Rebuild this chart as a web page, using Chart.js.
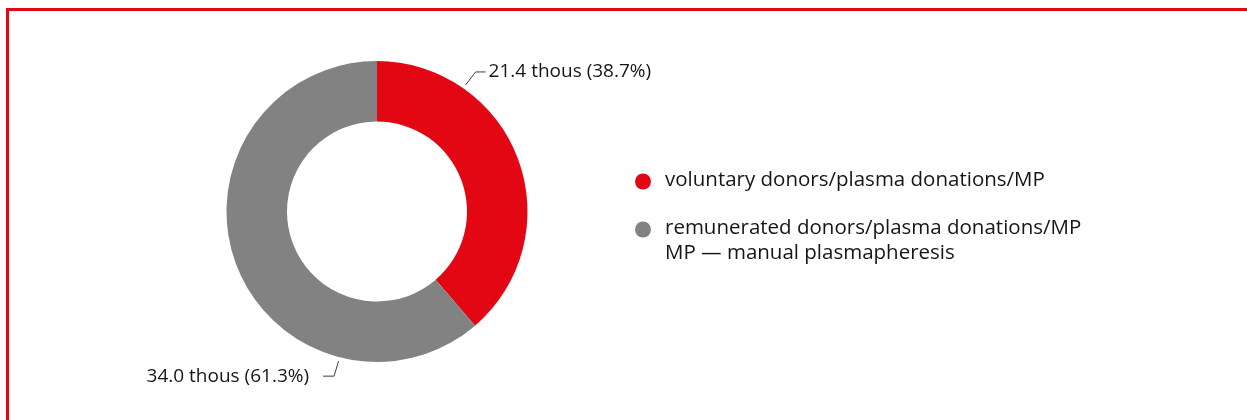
<!DOCTYPE html>
<html>
<head>
<meta charset="utf-8">
<script src="https://cdn.jsdelivr.net/npm/chart.js@4.4.1/dist/chart.umd.min.js"></script>
<style>
  html, body { margin: 0; padding: 0; background: #ffffff; }
  #wrap { position: relative; width: 1247px; height: 420px; overflow: hidden; }
  #frame {
    position: absolute; left: 6px; top: 8px; width: 1400px; height: 500px;
    border-top: 3px solid #e30613; border-left: 3px solid #e30613;
    box-sizing: border-box; pointer-events: none;
  }
  canvas { position: absolute; left: 0; top: 0; }
</style>
</head>
<body>
<div id="wrap">
  <canvas id="chart" width="1247" height="420"></canvas>
  <div id="frame"></div>
</div>
<script>
// Plasma donations by donor type, MP
const categories = [
  'voluntary donors/plasma donations/MP',
  'remunerated donors/plasma donations/MP'
];
const sharePercent = [38.7, 61.3];
const thousands = [21.4, 34.0];
const footnote = 'MP — manual plasmapheresis';
const colors = ['#e30613', '#818281'];

const FONT = '"Open Sans", "Noto Sans", sans-serif';
const TEXT_COLOR = '#161615';

// Callout placement for each slice: angle (deg, clockwise from top) where the
// leader starts, elbow offset and which side the text sits on.
const callouts = [
  { angle: 35, elbow: [10, -13], run: 10, gap: 3, side: 'right' },
  { angle: 194.4, elbow: [-4.5, 15], run: -11, gap: 14, side: 'left' }
];

const calloutPlugin = {
  id: 'callouts',
  afterDatasetsDraw(chart) {
    const ctx = chart.ctx;
    const meta = chart.getDatasetMeta(0);
    ctx.save();
    ctx.strokeStyle = '#3c3c3b';
    ctx.lineWidth = 1;
    ctx.fillStyle = TEXT_COLOR;
    ctx.font = '19px ' + FONT;
    ctx.textBaseline = 'middle';
    meta.data.forEach((arc, i) => {
      const c = callouts[i];
      const a = c.angle * Math.PI / 180;
      const r = arc.outerRadius + 4;
      const x0 = arc.x + r * Math.sin(a);
      const y0 = arc.y - r * Math.cos(a);
      const x1 = x0 + c.elbow[0];
      const y1 = y0 + c.elbow[1];
      const x2 = x1 + c.run;
      ctx.beginPath();
      ctx.moveTo(x0, y0);
      ctx.lineTo(x1, y1);
      ctx.lineTo(x2, y1);
      ctx.stroke();
      const text = thousands[i].toFixed(1) + ' thous (' + sharePercent[i].toFixed(1) + '%)';
      if (c.side === 'right') {
        ctx.textAlign = 'left';
        ctx.fillText(text, x2 + c.gap, y1);
      } else {
        ctx.textAlign = 'right';
        ctx.fillText(text, x2 - c.gap, y1);
      }
    });
    ctx.restore();
  }
};

// Legend on the right side, drawn on the canvas
const legendPlugin = {
  id: 'sideLegend',
  afterDraw(chart) {
    const ctx = chart.ctx;
    const labels = chart.data.labels;
    const bg = chart.data.datasets[0].backgroundColor;
    const markerX = 643, textX = 665;
    const rows = [181.5, 229.5];
    ctx.save();
    ctx.font = '20.5px ' + FONT;
    ctx.textBaseline = 'middle';
    ctx.textAlign = 'left';
    labels.forEach((lab, i) => {
      const y = rows[i];
      ctx.fillStyle = bg[i];
      ctx.beginPath();
      ctx.arc(markerX, y, 8, 0, Math.PI * 2);
      ctx.fill();
      ctx.fillStyle = TEXT_COLOR;
      ctx.fillText(lab, textX, y - 1.5);
    });
    ctx.fillText(footnote, textX, rows[rows.length - 1] + 23.5);
    ctx.restore();
  }
};

new Chart(document.getElementById('chart'), {
  type: 'doughnut',
  data: {
    labels: categories,
    datasets: [{
      data: sharePercent,
      backgroundColor: colors,
      borderWidth: 0,
      hoverOffset: 0,
      offset: 0
    }]
  },
  options: {
    responsive: false,
    animation: false,
    cutout: '59.8%',
    rotation: 0,
    layout: { padding: { left: 226, right: 719, top: 61, bottom: 58 } },
    plugins: {
      legend: { display: false },
      tooltip: { enabled: false }
    },
    events: []
  },
  plugins: [calloutPlugin, legendPlugin]
});
</script>
</body>
</html>
